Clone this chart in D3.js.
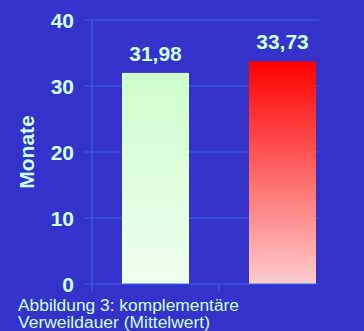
<!DOCTYPE html>
<html>
<head>
<meta charset="utf-8">
<script src="https://cdn.jsdelivr.net/npm/d3@7"></script>
<style>
  html, body { margin: 0; padding: 0; background: #3333cc; }
  svg { display: block; }
</style>
</head>
<body>
<script>
// Mittlere komplementäre Verweildauer in Monaten
const categories = ["Gruppe A", "Gruppe B"];
const values = [31.98, 33.73];
const valueLabels = ["31,98", "33,73"];
const yTicks = [0, 10, 20, 30, 40];
const yTitle = "Monate";
const captionLines = ["Abbildung 3: komplementäre", "Verweildauer (Mittelwert)"];

const W = 364, H = 331;
const bg = "#3333cc", textCol = "#ccffff", gridCol = "#3366f0";

const svg = d3.select("body").append("svg").attr("width", W).attr("height", H);
svg.append("rect").attr("width", W).attr("height", H).attr("fill", bg);

const x0 = 92, plotRight = 319;
const x = d3.scaleBand().domain(categories).range([x0, 346]).paddingInner(0).paddingOuter(0);
const y = d3.scaleLinear().domain([0, 40]).range([284, 20]);

const defs = svg.append("defs");
const grads = [["#ccffcc", "#eeffee"], ["#ff0000", "#ffcccc"]];
grads.forEach((g, i) => {
  const lg = defs.append("linearGradient").attr("id", "g" + i)
    .attr("x1", 0).attr("y1", 0).attr("x2", 0).attr("y2", 1);
  lg.append("stop").attr("offset", "0%").attr("stop-color", g[0]);
  lg.append("stop").attr("offset", "100%").attr("stop-color", g[1]);
});

// Gitterlinien mit Teilstrichen links der Achse
svg.append("g").selectAll("line").data(yTicks.filter(d => d > 0)).join("line")
  .attr("x1", x0 - 7).attr("x2", plotRight)
  .attr("y1", d => y(d)).attr("y2", d => y(d))
  .attr("stroke", gridCol).attr("stroke-width", 1.2);

// Balken
const bw = 67;
svg.append("g").selectAll("rect").data(values).join("rect")
  .attr("x", (d, i) => x(categories[i]) + x.bandwidth() / 2 - bw / 2)
  .attr("width", bw)
  .attr("y", d => y(d))
  .attr("height", d => y(0) - y(d))
  .attr("fill", (d, i) => `url(#g${i})`);

// Achsen
svg.append("line").attr("x1", x0).attr("x2", x0).attr("y1", y(40)).attr("y2", y(0) + 7)
  .attr("stroke", gridCol).attr("stroke-width", 1.2);
svg.append("line").attr("x1", x0 - 7).attr("x2", plotRight).attr("y1", y(0)).attr("y2", y(0))
  .attr("stroke", gridCol).attr("stroke-width", 1.2);
svg.append("line").attr("x1", x(categories[1])).attr("x2", x(categories[1]))
  .attr("y1", y(0)).attr("y2", y(0) + 7)
  .attr("stroke", gridCol).attr("stroke-width", 1.2);

const font = "'Liberation Sans', Arial, sans-serif";

// Achsenbeschriftung
svg.append("g").selectAll("text").data(yTicks).join("text")
  .attr("x", 74).attr("y", d => y(d)).attr("dy", "0.36em")
  .attr("text-anchor", "end")
  .attr("font-family", font).attr("font-weight", "bold").attr("font-size", 21)
  .attr("fill", textCol).text(d => d);

svg.append("text")
  .attr("transform", `translate(34,152) rotate(-90)`)
  .attr("text-anchor", "middle")
  .attr("font-family", font).attr("font-weight", "bold").attr("font-size", 21)
  .attr("fill", textCol).text(yTitle);

// Wertebeschriftung
svg.append("g").selectAll("text").data(values).join("text")
  .attr("x", (d, i) => x(categories[i]) + x.bandwidth() / 2)
  .attr("y", d => y(d) - 12)
  .attr("text-anchor", "middle")
  .attr("font-family", font).attr("font-weight", "bold").attr("font-size", 21)
  .attr("fill", textCol).text((d, i) => valueLabels[i]);

// Bildunterschrift (leicht gestreckt)
const capWidths = [221, 192];
svg.append("g").selectAll("text").data(captionLines).join("text")
  .attr("x", 18).attr("y", (d, i) => 311 + i * 16.5)
  .attr("font-family", font).attr("font-size", 16)
  .attr("textLength", (d, i) => capWidths[i])
  .attr("lengthAdjust", "spacingAndGlyphs")
  .attr("fill", textCol).text(d => d);
</script>
</body>
</html>
